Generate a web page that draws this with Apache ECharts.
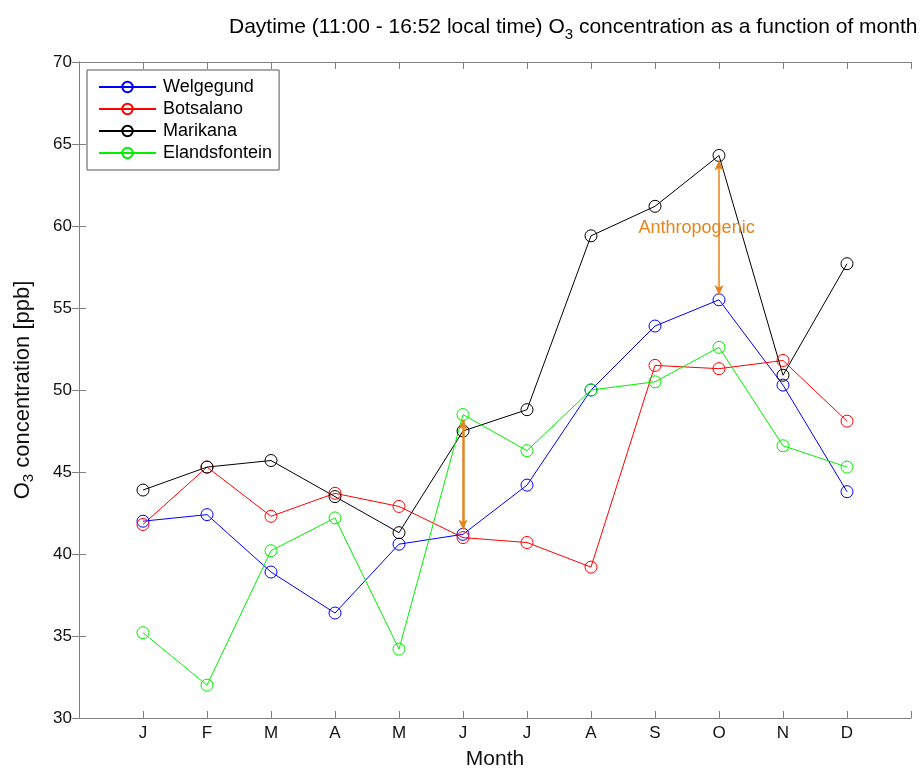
<!DOCTYPE html>
<html><head><meta charset="utf-8">
<script src="https://cdn.jsdelivr.net/npm/echarts@6/dist/echarts.min.js"></script>
<style>html,body{margin:0;padding:0;background:#fff}#c{width:920px;height:768px}</style>
</head><body><div id="c"></div>
<script>
var monthLabels = ['J','F','M','A','M','J','J','A','S','O','N','D'];
var monthIndex = [1,2,3,4,5,6,7,8,9,10,11,12];
var welgegund = [42.0,42.4,38.9,36.4,40.6,41.2,44.2,50.0,53.9,55.5,50.3,43.8];
var botsalano = [41.8,45.3,42.3,43.7,42.9,41.0,40.7,39.2,51.5,51.3,51.8,48.1];
var marikana = [43.9,45.3,45.7,43.5,41.3,47.5,48.8,59.4,61.2,64.3,50.9,57.7];
var elandsfontein = [35.2,32.0,40.2,42.2,34.2,48.5,46.3,50.0,50.5,52.6,46.6,45.3];
var seriesNames = ['Welgegund','Botsalano','Marikana','Elandsfontein'];
var seriesColors = ['#0000ff','#ff0000','#000000','#00f000'];
var arrowJune = [[6,48.2],[6,41.5]];
var arrowOct = [[10,64.0],[10,55.8]];
var annotation = {text:'Anthropogenic', x:9.65, y:59.85};
var yTicks = {min:30, max:70, interval:5};

function pairs(arr){ return arr.map(function(v,i){ return [monthIndex[i], v]; }); }
var allData = [welgegund, botsalano, marikana, elandsfontein];
var orange = '#e5841c';

var series = allData.map(function(d,i){
  return {
    name: seriesNames[i], type:'line', data: pairs(d),
    symbol:'circle', symbolSize:12, showSymbol:true,
    lineStyle:{color:seriesColors[i], width:1},
    itemStyle:{color:'rgba(255,255,255,0)', borderColor:seriesColors[i], borderWidth:1},
    color: seriesColors[i],
    emphasis:{disabled:true}, animation:false, z:3
  };
});
series.push({
  name:'annot', type:'line', data:[], animation:false, silent:true,
  markLine:{
    silent:true, symbol:['arrow','arrow'], symbolSize:[7,10], label:{show:false},
    lineStyle:{color:orange, type:'solid'},
    data:[
      [{coord:arrowJune[0], lineStyle:{width:2.5, color:orange}},{coord:arrowJune[1]}],
      [{coord:arrowOct[0], lineStyle:{width:1.5, color:orange}},{coord:arrowOct[1]}]
    ],
    animation:false
  },
  markPoint:{
    silent:true, symbol:'circle', symbolSize:0,
    data:[{coord:[annotation.x, annotation.y], value:annotation.text}],
    label:{show:true, formatter:annotation.text, color:orange, fontSize:18, fontFamily:'Liberation Sans, Arial', position:'inside'},
    animation:false
  }
});

var axisColor = '#808080';
var fontF = 'Liberation Sans, Arial, sans-serif';
var chart = echarts.init(document.getElementById('c'), null, {renderer:'canvas'});
chart.setOption({
  backgroundColor:'#fff',
  animation:false,
  title:{
    text:'{a|Daytime (11:00 - 16:52 local time) O}{s|3}{a| concentration as a function of month}',
    left:224, top:8,
    textStyle:{fontWeight:'normal', rich:{
      a:{fontSize:21, fontFamily:fontF, color:'#000', fontWeight:'normal'},
      s:{fontSize:15, fontFamily:fontF, color:'#000', fontWeight:'normal', verticalAlign:'bottom', padding:[14,0,0,0]}
    }}
  },
  legend:{
    data:seriesNames, orient:'vertical', left:87, top:70,
    itemWidth:57, itemHeight:13, itemGap:4,
    backgroundColor:'#fff', borderColor:'#555', borderWidth:1,
    padding:[8,7,8,11],
    textStyle:{fontSize:18, fontFamily:fontF, color:'#000', padding:[0,0,0,2]}
  },
  grid:{left:79, right:9, top:62, bottom:50, containLabel:false, outerBoundsMode:'none'},
  xAxis:[{
    type:'value', min:0, max:13, interval:1,
    name:'Month', nameLocation:'middle', nameGap:31,
    nameTextStyle:{fontSize:21, fontFamily:fontF, color:'#111'},
    axisLine:{show:true, lineStyle:{color:axisColor}},
    axisTick:{show:true, inside:true, length:7, lineStyle:{color:axisColor}},
    splitLine:{show:false},
    axisLabel:{fontSize:17, fontFamily:fontF, color:'#111', margin:7,
      formatter:function(v){ return (v>=1 && v<=12) ? monthLabels[v-1] : ''; }}
  },{
    type:'value', min:0, max:13, interval:1, position:'top',
    axisLine:{show:true, lineStyle:{color:axisColor}},
    axisTick:{show:true, inside:true, length:7, lineStyle:{color:axisColor}},
    axisLabel:{show:false}, splitLine:{show:false}
  }],
  yAxis:[{
    type:'value', min:yTicks.min, max:yTicks.max, interval:yTicks.interval,
    name:'{a|O}{s|3}{a| concentration [ppb]}', nameLocation:'middle', nameGap:43,
    nameTextStyle:{rich:{
      a:{fontSize:22, fontFamily:fontF, color:'#111'},
      s:{fontSize:15, fontFamily:fontF, color:'#111', verticalAlign:'bottom', padding:[12,0,0,0]}
    }},
    axisLine:{show:true, lineStyle:{color:axisColor}},
    axisTick:{show:true, inside:true, length:7, lineStyle:{color:axisColor}},
    splitLine:{show:false},
    axisLabel:{fontSize:17, fontFamily:fontF, color:'#111', margin:7}
  },{
    type:'value', min:yTicks.min, max:yTicks.max, interval:yTicks.interval, position:'right',
    axisLine:{show:true, lineStyle:{color:axisColor}},
    axisTick:{show:true, inside:true, length:7, lineStyle:{color:axisColor}},
    axisLabel:{show:false}, splitLine:{show:false}
  }],
  series: series
});
</script></body></html>
